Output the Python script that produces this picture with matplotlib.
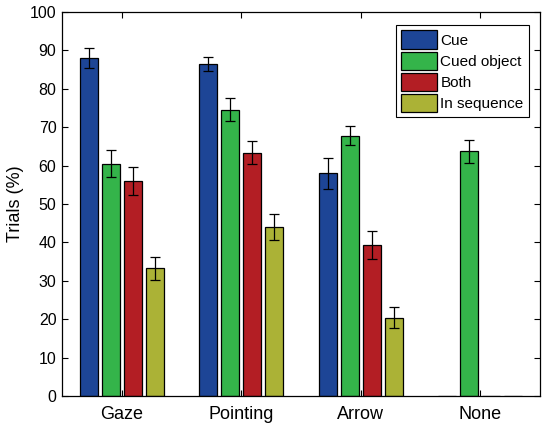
import numpy as np
import matplotlib
matplotlib.use("Agg")
import matplotlib.pyplot as plt

plt.rcParams["font.family"] = ["Liberation Sans", "DejaVu Sans"]

categories = ["Gaze", "Pointing", "Arrow", "None"]
series = ["Cue", "Cued object", "Both", "In sequence"]
colors = ["#1d4596", "#34b44a", "#b31e24", "#abb236"]

cue = [88.0, 86.5, 58.0, 0.0]
cue_err = [2.7, 1.8, 4.0, 0.0]
cued_object = [60.5, 74.6, 67.8, 63.8]
cued_object_err = [3.5, 2.9, 2.5, 3.0]
both = [56.0, 63.4, 39.4, 0.0]
both_err = [3.6, 3.0, 3.6, 0.0]
in_sequence = [33.3, 44.0, 20.4, 0.0]
in_sequence_err = [3.0, 3.3, 2.7, 0.0]

values = [cue, cued_object, both, in_sequence]
errors = [cue_err, cued_object_err, both_err, in_sequence_err]

fig = plt.figure(figsize=(5.46, 4.26), dpi=100)
ax = fig.add_axes([0.1136, 0.0704, 0.8754, 0.9014])

x = np.arange(1, len(categories) + 1)
step = 0.184
width = 0.15
for i, (name, vals, errs, col) in enumerate(zip(series, values, errors, colors)):
    pos = x + (i - 1.5) * step
    ax.bar(pos, vals, width, color=col, edgecolor="black", linewidth=0.9,
           label=name, zorder=2)
    e = np.array(errs)
    m = e > 0
    ax.errorbar(pos[m], np.array(vals)[m], yerr=e[m], fmt="none",
                ecolor="black", elinewidth=0.9, capsize=3.5, capthick=0.9,
                zorder=3)

ax.set_xlim(0.5, 4.5)
ax.set_ylim(0, 100)
ax.set_xticks(x)
ax.set_xticklabels(categories, fontsize=13)
ax.set_yticks(np.arange(0, 101, 10))
ax.tick_params(axis="y", labelsize=11.5, pad=4)
ax.tick_params(axis="x", pad=7)
ax.tick_params(direction="in", top=True, right=True, length=4, width=0.8)
ax.set_ylabel("Trials (%)", fontsize=13)
for s in ax.spines.values():
    s.set_linewidth(0.9)

leg = ax.legend(loc="upper right", bbox_to_anchor=(0.977, 0.966),
                borderaxespad=0, fontsize=11, fancybox=False,
                edgecolor="black", framealpha=1, handlelength=2.3,
                handleheight=1.45, handletextpad=0.25, labelspacing=0.2,
                borderpad=0.35)
leg.get_frame().set_linewidth(0.8)

fig.savefig("out.png", dpi=100)
